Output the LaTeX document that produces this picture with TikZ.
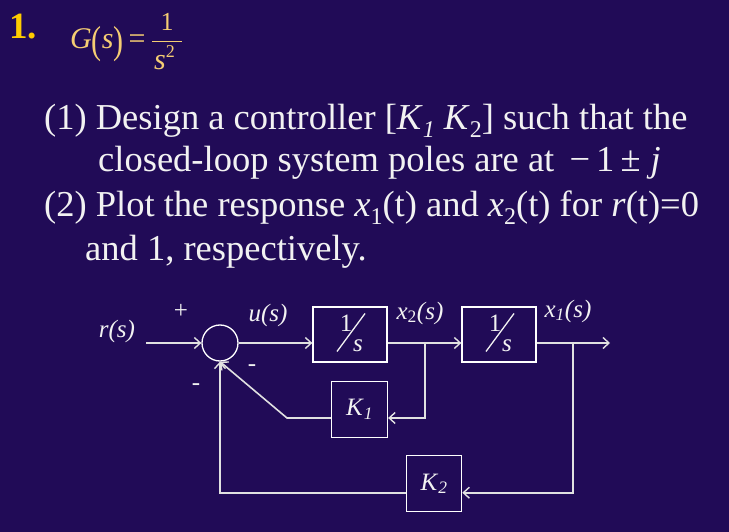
\documentclass[tikz,border=0pt]{standalone}
\usepackage{fontspec}
\usepackage{amsmath}
\setmainfont{Liberation Serif}
\usetikzlibrary{arrows.meta}
\definecolor{bg}{RGB}{33,11,87}
\definecolor{fg}{RGB}{242,242,242}
\definecolor{wirec}{RGB}{225,225,225}
\definecolor{gold}{RGB}{255,204,0}
\definecolor{formula}{RGB}{245,205,115}
\newcommand{\sz}[1]{\fontsize{#1}{#1}\selectfont}
\newcommand{\lo}[1]{\raisebox{-0.22em}{\sz{24}#1}}
\begin{document}
\begin{tikzpicture}[x=1pt,y=-1pt,
  txt/.style={text=fg,inner sep=0pt},
  body/.style={txt,anchor=base west,font=\sz{36.5}},
  lbl/.style={txt,font=\sz{25}},
  ilbl/.style={txt,font=\sz{25}\itshape},
  blk/.style={draw=white,text=fg,line width=1.3pt,inner sep=0pt},
  wire/.style={draw=wirec,line width=1.6pt},
  arr/.style={wire,-{Straight Barb[length=6pt,width=11pt,line width=1.4pt]}},
  invs/.pic={
    \node[lbl] at (-4,-11) {1};
    \draw[fg,line width=1.3pt] (-13,17) -- (15,-21);
    \node[ilbl] at (8,11) {s};
  }
]
\path[fill=bg,use as bounding box] (0,0) rectangle (729,532);

% title
\node[txt,anchor=base west,font=\sz{37}\bfseries,text=gold] (num) at (9,39) {1.};
\node[txt,anchor=base west,font=\sz{30},text=formula] (gs) at (70,49)
  {\textit{G}\raisebox{-0.14em}{\scalebox{1}[1.3]{(}}\textit{s}\raisebox{-0.14em}{\scalebox{1}[1.3]{)}}\,=};
\node[txt,text=formula,font=\sz{26}] (gnum) at (167,22) {1};
\draw[formula,line width=1.2pt] (152,41.7) -- (182,41.7);
\node[txt,text=formula,font=\sz{30},anchor=base west] (gden) at (154,70) {\textit{s}\raisebox{0.4em}{\sz{18}2}};

% body text
\node[body] (l1) at (44,129.5) {(1) Design a controller [\textit{K}\lo{\textit{1}} \textit{K}\lo{2}] such that the};
\node[body] (l2) at (98,171.7) {closed-loop system poles are at \,−\,1\,±\;\textit{j}};
\node[body] (l3) at (44,216.7) {(2) Plot the response \textit{x}\lo{1}(t) and \textit{x}\lo{2}(t) for \textit{r}(t)=0};
\node[body] (l4) at (85,260.7) {and 1, respectively.};

% block diagram
\node[blk,circle,minimum size=36pt] (sum) at (220,343) {};
\node[blk,minimum width=74pt,minimum height=55pt] (b1) at (350,334.5) {};
\node[blk,minimum width=74pt,minimum height=55pt] (b2) at (499,334.5) {};
\pic at (b1.center) {invs};
\pic at (b2.center) {invs};
\node[blk,minimum width=56pt,minimum height=56pt,font=\sz{25}] (k1) at (359.5,409.3) {\textit{K}$_{\textit{1}}$};
\node[blk,minimum width=55pt,minimum height=56pt,font=\sz{25}] (k2) at (434.2,483.7) {\textit{K}$_{\textit{2}}$};

\coordinate (rin) at (146,343);
\coordinate (br1) at (425,343);
\coordinate (k1y) at (425,418);
\coordinate (k1c) at (287,418);
\coordinate (br2) at (573,343);
\coordinate (k2y) at (573,492.7);
\coordinate (out) at (610,343);

\draw[arr] (rin) -- (sum.west);
\draw[arr] (sum.east) -- (sum.east -| b1.west);
\draw[arr] (sum -| b1.east) -- (sum -| b2.west);
\draw[arr] (br1) -- (k1y) -- (k1y -| k1.east);
\draw[arr] (k1y -| k1.west) -- (k1c) -- (sum.south);
\draw[arr] (sum -| b2.east) -- (out);
\draw[arr] (br2) -- (k2y) -- (k2y -| k2.east);
\draw[arr] (k2y -| k2.west) -- (k2y -| sum) -- (sum.south);

% labels
\node[ilbl] (rl) at (117,331) {r(s)};
\node[lbl] (plus) at (181,311) {+};
\node[ilbl] (ul) at (268,315) {u(s)};
\node[lbl] (m1) at (252,368) {-};
\node[lbl] (m2) at (196,387) {-};
\node[lbl] (x2l) at (420,313) {\textit{x}$_{\text{2}}$\textit{(s)}};
\node[lbl] (x1l) at (568,311) {\textit{x}$_{\textit{1}}$\textit{(s)}};
\end{tikzpicture}
\end{document}
